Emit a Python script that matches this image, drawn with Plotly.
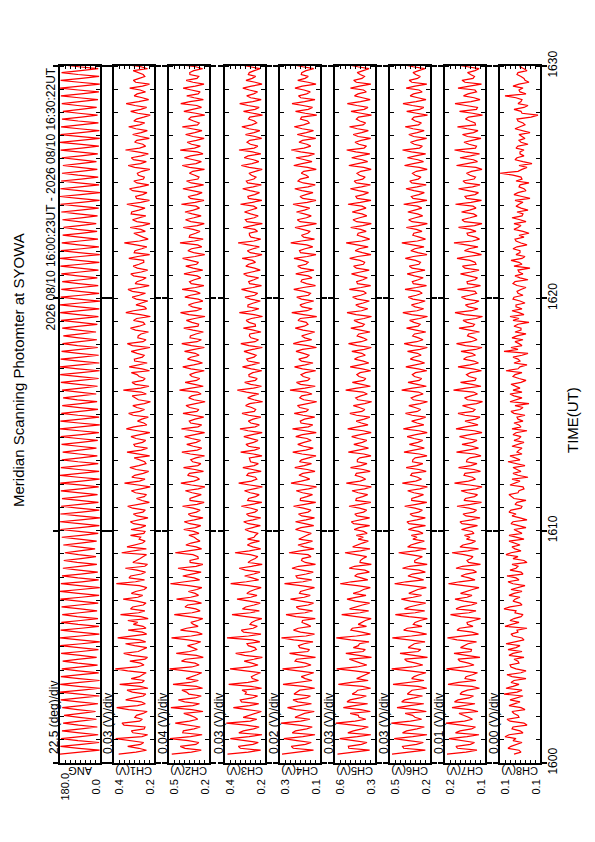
import pandas as pd
import plotly.graph_objects as go

# ---------------- data (one sample every 5 s) ----------------
ang_deg = [
    180, 86, 2, 95, 178, 83, 4, 99, 175, 88, 8, 93, 171, 85, 12, 97, 166, 90, 16, 94,
    162, 87, 20, 101, 170, 84, 9, 96, 177, 89, 3, 92, 180, 82, 0, 98, 179, 91, 2, 94,
    176, 88, 6, 97, 172, 85, 11, 100, 168, 92, 15, 89, 175, 86, 7, 95, 179, 83, 1, 93,
    180, 90, 3, 97, 177, 84, 5, 99, 174, 87, 9, 102, 170, 91, 13, 88, 173, 94, 8, 96,
    178, 85, 4, 98, 180, 89, 1, 93, 176, 82, 6, 100, 171, 87, 10, 95, 167, 91, 14, 103,
    163, 86, 18, 97, 158, 92, 22, 99, 165, 88, 15, 94, 172, 84, 8, 96, 178, 90, 3, 92,
    180, 87, 0, 95, 178, 83, 3, 98, 175, 90, 7, 94, 171, 86, 11, 101, 176, 89, 6, 93,
    179, 84, 2, 97, 180, 91, 4, 96, 176, 85, 8, 99, 172, 88, 12, 95, 168, 92, 16, 97,
    173, 86, 10, 98, 177, 83, 5, 94, 180, 89, 1, 96, 178, 85, 4, 100, 174, 90, 9, 93,
    170, 87, 13, 102, 166, 91, 17, 95, 171, 84, 11, 97, 176, 88, 6, 92, 179, 85, 2, 99,
    180, 90, 3, 94, 177, 84, 6, 97, 173, 88, 10, 101, 169, 92, 14, 96, 165, 86, 18, 98,
    170, 89, 12, 93, 175, 83, 7, 99, 179, 87, 3, 95, 180, 91, 0, 97, 177, 85, 4, 94,
    174, 88, 8, 96, 170, 84, 12, 100, 174, 90, 7, 93, 178, 86, 3, 98, 180, 89, 1, 95,
    176, 83, 5, 97, 172, 91, 9, 94, 168, 87, 13, 102, 164, 92, 17, 96, 169, 85, 11, 99,
    174, 89, 6, 95, 178, 84, 2, 98, 180, 87, 0, 93, 178, 90, 4, 97, 175, 85, 8, 100,
    171, 88, 12, 94, 167, 91, 16, 96, 172, 86, 10, 99, 177, 83, 5, 95, 180, 89, 1, 97,
    178, 86, 3, 94, 175, 90, 7, 98, 171, 84, 11, 96, 167, 88, 15, 101, 172, 92, 9, 95,
    176, 85, 5, 97, 180, 89, 1, 93, 177, 83, 4, 99, 173, 87, 8, 96, 169, 91, 12, 94,
]

ch1_mv = [
    372, 268, 205, 251, 318, 240, 222, 305, 390, 232, 198, 286, 296, 219, 214, 340, 352, 247, 230, 275,
    265, 226, 201, 312, 384, 259, 212, 237, 330, 281, 225, 209, 290, 322, 196, 244, 366, 231, 218, 297,
    248, 229, 207, 318, 392, 263, 220, 241, 305, 214, 199, 292, 342, 255, 233, 203, 276, 331, 210, 246,
    378, 272, 204, 230, 315, 208, 226, 284, 258, 317, 195, 239, 361, 252, 215, 301, 288, 224, 208, 263,
    345, 257, 228, 296, 270, 219, 203, 248, 386, 271, 217, 310, 300, 236, 211, 262, 332, 215, 199, 287,
    262, 243, 224, 205, 354, 266, 206, 322, 283, 229, 213, 249, 240, 301, 221, 214, 298, 238, 209, 282,
    302, 241, 196, 262, 284, 227, 212, 288, 318, 253, 188, 232, 265, 219, 205, 271, 296, 238, 183, 256,
    337, 247, 214, 293, 276, 224, 192, 267, 305, 251, 208, 216, 248, 279, 186, 245, 322, 236, 199, 274,
    281, 229, 210, 268, 298, 244, 185, 259, 326, 281, 203, 221, 259, 233, 194, 285, 312, 246, 217, 263,
    287, 218, 181, 254, 270, 291, 206, 237, 344, 240, 190, 272, 292, 226, 213, 249, 262, 296, 187, 231,
    309, 252, 201, 276, 278, 230, 219, 261, 297, 243, 184, 289, 320, 226, 208, 257, 255, 238, 193, 271,
    301, 249, 215, 224, 283, 264, 182, 242, 329, 283, 205, 217, 268, 235, 197, 266, 291, 248, 211, 290,
    316, 244, 189, 273, 262, 229, 207, 282, 299, 236, 198, 260, 285, 250, 221, 222, 311, 258, 186, 279,
    274, 234, 203, 268, 338, 247, 195, 226, 258, 281, 212, 239, 303, 228, 184, 263, 289, 241, 209, 297,
    294, 251, 214, 270, 323, 239, 187, 265, 270, 228, 202, 288, 307, 245, 191, 262, 281, 223, 218, 254,
    260, 232, 185, 276, 315, 240, 206, 283, 296, 236, 194, 259, 331, 247, 210, 227, 276, 263, 188, 241,
    288, 237, 200, 269, 312, 246, 216, 281, 265, 222, 183, 257, 300, 239, 204, 274, 327, 252, 192, 230,
    279, 261, 211, 243, 306, 229, 187, 270, 284, 249, 215, 225, 259, 285, 199, 238, 318, 255, 190, 266,
]

ch2_mv = [
    498, 341, 262, 392, 430, 305, 281, 366, 512, 348, 255, 410, 405, 320, 270, 377, 470, 356, 290, 314,
    350, 402, 248, 338, 505, 329, 276, 395, 445, 310, 262, 361, 380, 417, 251, 300, 488, 352, 285, 383,
    330, 296, 258, 374, 515, 338, 279, 312, 420, 387, 246, 301, 462, 355, 293, 330, 372, 308, 266, 368,
    500, 342, 254, 297, 428, 379, 287, 324, 345, 290, 250, 359, 478, 335, 271, 306, 392, 371, 260, 318,
    460, 347, 284, 311, 365, 298, 257, 362, 508, 393, 275, 319, 410, 338, 263, 375, 448, 304, 249, 351,
    352, 286, 289, 329, 470, 366, 259, 303, 385, 344, 272, 297, 318, 361, 280, 322, 402, 309, 266, 354,
    398, 318, 248, 344, 366, 301, 271, 327, 412, 296, 239, 352, 352, 309, 262, 335, 389, 286, 233, 340,
    425, 322, 276, 299, 371, 357, 244, 313, 404, 290, 265, 331, 346, 305, 236, 349, 417, 294, 258, 326,
    378, 302, 268, 339, 395, 315, 235, 333, 420, 289, 259, 347, 358, 312, 242, 326, 408, 297, 281, 355,
    384, 308, 231, 320, 362, 338, 263, 292, 436, 343, 246, 316, 391, 300, 274, 336, 355, 311, 238, 345,
    410, 323, 252, 298, 372, 346, 279, 310, 396, 318, 237, 341, 418, 296, 261, 352, 349, 305, 245, 329,
    402, 288, 283, 337, 381, 315, 232, 360, 428, 301, 257, 332, 364, 319, 249, 286, 393, 348, 270, 307,
    415, 309, 241, 342, 356, 318, 266, 295, 400, 336, 250, 328, 386, 299, 284, 350, 411, 313, 234, 323,
    369, 340, 258, 291, 432, 317, 247, 358, 353, 306, 272, 327, 406, 294, 238, 345, 388, 321, 263, 334,
    392, 326, 276, 303, 421, 311, 240, 348, 367, 297, 255, 335, 409, 320, 243, 342, 380, 289, 280, 314,
    357, 330, 236, 356, 414, 304, 261, 325, 397, 347, 248, 293, 430, 316, 269, 339, 375, 301, 239, 327,
    387, 314, 256, 337, 413, 292, 278, 323, 362, 344, 234, 306, 401, 331, 260, 298, 426, 352, 245, 319,
    378, 287, 271, 341, 407, 310, 240, 328, 383, 296, 282, 353, 354, 322, 251, 305, 419, 338, 244, 315,
]

ch3_mv = [
    395, 271, 196, 318, 330, 242, 210, 296, 378, 265, 188, 327, 300, 239, 205, 284, 402, 258, 219, 301,
    268, 233, 192, 276, 360, 262, 207, 311, 318, 247, 214, 289, 282, 308, 190, 254, 388, 272, 209, 246,
    252, 228, 197, 286, 380, 263, 212, 249, 295, 237, 186, 292, 346, 254, 222, 231, 270, 278, 201, 244,
    398, 269, 194, 298, 312, 241, 216, 260, 250, 226, 189, 283, 368, 257, 204, 305, 286, 235, 199, 264,
    338, 255, 218, 279, 262, 231, 193, 267, 376, 282, 208, 246, 292, 238, 200, 288, 325, 251, 187, 272,
    255, 229, 213, 258, 350, 264, 196, 243, 276, 253, 203, 275, 236, 227, 211, 261, 290, 244, 198, 270,
    298, 242, 196, 266, 281, 231, 214, 253, 312, 248, 189, 274, 268, 226, 205, 259, 293, 237, 186, 262,
    328, 251, 219, 228, 279, 270, 193, 245, 303, 235, 210, 257, 262, 264, 188, 240, 316, 233, 201, 269,
    284, 238, 212, 259, 297, 246, 187, 272, 320, 229, 204, 255, 270, 241, 195, 268, 308, 234, 226, 250,
    286, 263, 184, 236, 274, 247, 207, 281, 336, 239, 191, 256, 292, 228, 217, 265, 267, 243, 189, 252,
    305, 249, 202, 271, 280, 236, 223, 258, 296, 244, 186, 267, 315, 230, 209, 254, 264, 261, 194, 240,
    300, 227, 229, 266, 283, 252, 185, 235, 324, 248, 206, 273, 272, 239, 198, 257, 290, 232, 214, 263,
    311, 243, 191, 262, 268, 237, 208, 275, 298, 250, 199, 233, 285, 268, 227, 245, 307, 229, 188, 259,
    276, 241, 204, 270, 331, 236, 196, 254, 263, 264, 215, 231, 301, 247, 186, 278, 288, 234, 211, 256,
    293, 255, 218, 238, 317, 246, 189, 269, 273, 232, 203, 260, 304, 241, 192, 274, 282, 237, 224, 251,
    266, 228, 187, 265, 312, 248, 207, 239, 295, 271, 195, 244, 326, 235, 213, 258, 278, 262, 190, 230,
    287, 236, 201, 267, 309, 249, 220, 233, 269, 261, 185, 242, 299, 230, 205, 272, 322, 244, 193, 256,
    280, 238, 215, 263, 303, 251, 188, 229, 284, 247, 226, 270, 264, 234, 200, 259, 314, 240, 192, 266,
]

ch4_mv = [
    292, 214, 166, 247, 255, 198, 175, 232, 285, 209, 160, 251, 238, 193, 171, 226, 296, 217, 180, 240,
    222, 202, 163, 236, 270, 211, 174, 229, 248, 195, 178, 244, 230, 221, 161, 206, 288, 238, 172, 199,
    215, 191, 165, 228, 290, 207, 176, 198, 240, 234, 158, 213, 262, 189, 182, 221, 226, 204, 168, 245,
    294, 196, 162, 218, 246, 227, 177, 192, 212, 210, 159, 236, 276, 200, 170, 224, 235, 187, 166, 215,
    258, 203, 179, 222, 218, 190, 162, 217, 282, 208, 173, 231, 236, 195, 167, 212, 252, 226, 158, 199,
    214, 211, 176, 188, 264, 219, 164, 204, 228, 197, 170, 225, 205, 192, 175, 209, 238, 216, 165, 201,
    238, 196, 162, 213, 226, 188, 176, 207, 246, 201, 157, 219, 218, 193, 170, 210, 235, 186, 154, 204,
    256, 215, 181, 198, 224, 209, 160, 191, 241, 203, 174, 222, 214, 185, 156, 212, 249, 197, 167, 206,
    229, 204, 175, 192, 237, 211, 155, 199, 250, 187, 169, 216, 219, 202, 161, 208, 243, 195, 186, 221,
    230, 190, 153, 205, 221, 213, 172, 196, 260, 200, 159, 218, 234, 189, 180, 207, 216, 198, 157, 210,
    242, 199, 168, 214, 225, 193, 184, 206, 236, 210, 154, 190, 247, 217, 173, 201, 213, 188, 161, 208,
    239, 203, 188, 195, 228, 219, 153, 206, 253, 192, 171, 211, 220, 197, 165, 214, 233, 186, 178, 205,
    245, 207, 158, 194, 216, 212, 172, 187, 237, 203, 164, 215, 229, 196, 187, 209, 244, 191, 156, 218,
    222, 200, 169, 193, 257, 214, 162, 205, 214, 189, 179, 210, 240, 198, 154, 220, 231, 194, 175, 203,
    234, 202, 181, 216, 248, 191, 156, 209, 220, 197, 168, 213, 241, 188, 159, 207, 228, 219, 185, 195,
    215, 205, 155, 190, 245, 212, 172, 201, 236, 186, 162, 217, 255, 204, 177, 192, 224, 210, 157, 198,
    231, 195, 166, 211, 243, 206, 183, 190, 218, 214, 153, 199, 238, 187, 170, 208, 252, 202, 160, 217,
    226, 193, 179, 204, 240, 211, 156, 188, 229, 200, 187, 215, 213, 196, 165, 209, 247, 190, 158, 206,
]

ch5_mv = [
    565, 452, 372, 497, 500, 421, 388, 468, 552, 446, 365, 503, 470, 418, 380, 472, 575, 459, 395, 436,
    440, 489, 368, 425, 530, 462, 384, 508, 490, 431, 392, 477, 455, 444, 366, 415, 560, 482, 381, 450,
    425, 405, 370, 463, 570, 448, 389, 426, 468, 494, 361, 437, 515, 412, 398, 470, 440, 433, 376, 485,
    572, 451, 367, 419, 485, 476, 391, 441, 422, 398, 363, 466, 540, 429, 378, 493, 458, 415, 372, 457,
    508, 438, 394, 471, 432, 409, 368, 447, 548, 482, 383, 423, 462, 445, 374, 401, 495, 463, 362, 430,
    428, 412, 390, 456, 520, 427, 370, 474, 448, 415, 380, 441, 410, 452, 387, 408, 465, 436, 372, 468,
    482, 421, 372, 448, 461, 409, 390, 433, 496, 426, 365, 455, 452, 414, 384, 441, 478, 403, 362, 437,
    512, 429, 396, 418, 458, 452, 369, 411, 487, 424, 388, 446, 446, 432, 364, 407, 500, 440, 379, 423,
    467, 416, 389, 439, 480, 428, 363, 410, 504, 445, 382, 422, 453, 405, 371, 451, 491, 418, 401, 434,
    470, 402, 360, 443, 456, 425, 386, 412, 516, 449, 368, 420, 476, 408, 395, 436, 449, 430, 365, 417,
    489, 431, 377, 410, 463, 442, 398, 419, 479, 404, 362, 447, 499, 423, 387, 412, 447, 437, 370, 428,
    485, 415, 404, 440, 466, 406, 361, 453, 508, 421, 383, 433, 455, 411, 374, 446, 474, 426, 392, 409,
    494, 424, 366, 445, 450, 413, 386, 438, 481, 427, 375, 451, 468, 409, 402, 430, 492, 444, 364, 416,
    459, 435, 381, 448, 513, 419, 372, 407, 446, 441, 393, 426, 486, 413, 362, 450, 472, 432, 389, 418,
    477, 436, 394, 418, 502, 428, 364, 447, 455, 410, 379, 439, 488, 421, 368, 452, 465, 414, 399, 433,
    448, 425, 363, 408, 497, 443, 384, 417, 480, 431, 371, 455, 510, 406, 391, 437, 460, 423, 366, 441,
    471, 420, 380, 446, 493, 412, 397, 431, 452, 439, 361, 424, 484, 405, 382, 449, 506, 427, 369, 415,
    463, 442, 392, 409, 487, 433, 365, 452, 468, 418, 403, 429, 447, 411, 376, 444, 499, 425, 367, 436,
]

ch6_mv = [
    468, 352, 268, 398, 405, 321, 280, 369, 455, 344, 258, 405, 380, 318, 274, 372, 472, 357, 290, 330,
    345, 389, 262, 327, 438, 361, 277, 410, 392, 335, 285, 376, 360, 348, 259, 312, 462, 381, 276, 350,
    335, 306, 264, 364, 470, 347, 283, 325, 378, 392, 255, 338, 420, 312, 295, 371, 350, 334, 270, 386,
    466, 351, 260, 318, 398, 377, 288, 340, 330, 299, 256, 366, 448, 329, 272, 393, 366, 315, 266, 357,
    412, 341, 291, 367, 340, 313, 262, 349, 452, 384, 278, 322, 372, 346, 268, 305, 405, 363, 257, 331,
    332, 310, 286, 358, 428, 327, 263, 374, 355, 318, 274, 343, 318, 352, 282, 309, 370, 337, 267, 366,
    378, 319, 268, 342, 360, 308, 286, 331, 392, 322, 259, 350, 349, 312, 279, 337, 374, 301, 256, 334,
    406, 326, 291, 314, 356, 348, 263, 307, 383, 320, 283, 345, 343, 329, 258, 304, 396, 338, 274, 316,
    364, 313, 284, 336, 377, 325, 257, 306, 400, 341, 277, 318, 350, 302, 266, 347, 387, 316, 296, 330,
    367, 299, 255, 340, 353, 323, 281, 309, 410, 345, 262, 317, 372, 305, 290, 333, 346, 327, 259, 311,
    385, 328, 272, 306, 358, 338, 293, 315, 375, 300, 256, 344, 395, 320, 282, 309, 344, 333, 265, 324,
    381, 311, 299, 336, 362, 303, 255, 350, 403, 318, 278, 329, 351, 308, 269, 343, 370, 322, 287, 305,
    390, 321, 261, 340, 346, 310, 281, 333, 377, 324, 270, 347, 364, 306, 297, 327, 388, 339, 258, 313,
    355, 331, 276, 345, 409, 316, 267, 304, 343, 337, 288, 322, 382, 310, 256, 348, 368, 328, 284, 315,
    373, 332, 289, 314, 398, 325, 258, 342, 352, 307, 274, 336, 384, 318, 263, 349, 361, 311, 294, 329,
    345, 322, 257, 305, 393, 340, 279, 313, 376, 327, 266, 351, 405, 303, 286, 334, 357, 320, 260, 338,
    367, 317, 275, 342, 389, 309, 292, 328, 348, 336, 255, 320, 380, 302, 277, 346, 402, 324, 264, 313,
    359, 339, 287, 306, 383, 330, 259, 349, 365, 315, 298, 326, 342, 308, 271, 341, 395, 322, 262, 333,
]

ch7_mv = [
    206, 168, 146, 185, 188, 159, 151, 177, 202, 166, 142, 189, 180, 157, 149, 178, 208, 171, 155, 163,
    172, 182, 144, 160, 196, 169, 150, 191, 184, 162, 153, 180, 176, 165, 141, 156, 204, 183, 148, 170,
    168, 155, 145, 176, 207, 173, 152, 163, 180, 184, 140, 167, 192, 158, 157, 179, 171, 164, 147, 186,
    205, 169, 143, 156, 186, 181, 154, 165, 166, 152, 139, 178, 199, 162, 148, 188, 178, 157, 146, 172,
    190, 166, 156, 179, 169, 155, 142, 170, 203, 181, 150, 162, 178, 168, 147, 154, 188, 175, 139, 163,
    166, 158, 154, 172, 196, 164, 143, 180, 174, 157, 149, 167, 160, 171, 152, 156, 177, 163, 145, 176,
    180, 157, 140, 168, 174, 153, 147, 162, 186, 159, 137, 172, 169, 151, 145, 165, 178, 148, 136, 161,
    191, 163, 149, 155, 172, 170, 139, 152, 183, 158, 146, 167, 166, 160, 138, 150, 187, 164, 143, 156,
    176, 155, 146, 166, 181, 160, 136, 151, 188, 169, 144, 157, 170, 149, 140, 170, 184, 154, 150, 163,
    175, 147, 135, 165, 171, 158, 145, 153, 193, 168, 138, 156, 179, 150, 148, 162, 167, 159, 137, 154,
    184, 160, 143, 152, 173, 167, 149, 156, 178, 149, 136, 169, 187, 158, 146, 153, 165, 163, 141, 161,
    182, 154, 151, 166, 174, 148, 135, 171, 190, 157, 144, 163, 169, 151, 142, 168, 177, 161, 147, 150,
    185, 156, 139, 165, 166, 150, 145, 162, 179, 158, 142, 170, 175, 148, 150, 160, 186, 164, 137, 152,
    171, 162, 144, 168, 192, 155, 141, 149, 164, 166, 148, 159, 183, 151, 136, 171, 176, 160, 146, 153,
    177, 161, 148, 154, 189, 158, 137, 167, 170, 150, 143, 164, 183, 155, 140, 169, 174, 152, 149, 160,
    167, 157, 136, 148, 187, 166, 145, 153, 180, 159, 141, 170, 191, 149, 147, 162, 172, 156, 138, 165,
    175, 153, 144, 166, 185, 149, 150, 160, 169, 163, 135, 155, 181, 147, 145, 168, 190, 158, 140, 152,
    173, 164, 147, 150, 184, 161, 137, 170, 176, 154, 151, 159, 165, 150, 142, 165, 188, 157, 139, 162,
]

ch8_mv = [
    126, 119, 121, 132, 129, 123, 118, 127, 124, 135, 131, 117, 120, 128, 127, 113, 116, 130, 133, 121,
    122, 126, 128, 115, 119, 131, 125, 120, 130, 124, 117, 136, 123, 118, 134, 127, 121, 129, 126, 114,
    128, 133, 119, 114, 124, 129, 130, 121, 122, 126, 116, 131, 127, 118, 132, 124, 120, 134, 125, 116,
    118, 127, 129, 122, 123, 113, 135, 128, 121, 130, 126, 119, 117, 125, 124, 136, 130, 118, 120, 127,
    125, 120, 131, 126, 118, 129, 123, 115, 127, 132, 121, 124, 133, 117, 119, 130, 124, 122, 128, 113,
    116, 127, 122, 134, 129, 119, 125, 128, 120, 125, 131, 116, 123, 131, 118, 122, 126, 114, 121, 129,
    127, 113, 120, 128, 124, 131, 129, 119, 118, 125, 123, 114, 126, 129, 131, 122, 121, 116, 117, 130,
    125, 120, 128, 112, 122, 127, 119, 124, 127, 115, 124, 132, 120, 126, 130, 118, 123, 121, 118, 128,
    122, 116, 126, 121, 119, 127, 124, 113, 128, 119, 121, 126, 117, 122, 123, 115, 126, 129, 120, 117,
    125, 111, 130, 124, 118, 126, 130, 118, 127, 120, 124, 129, 119, 114, 121, 127, 125, 118, 134, 122,
    120, 113, 126, 120, 122, 127, 118, 112, 136, 122, 129, 118, 121, 125, 117, 128, 123, 114, 125, 119,
    119, 126, 122, 111, 127, 121, 130, 116, 121, 128, 118, 124, 124, 115, 120, 127, 126, 117, 122, 123,
    119, 114, 123, 127, 125, 112, 120, 125, 117, 121, 122, 110, 126, 118, 121, 129, 118, 115, 124, 120,
    120, 127, 123, 113, 119, 124, 125, 116, 121, 111, 117, 126, 122, 119, 126, 114, 120, 128, 118, 117,
    123, 112, 119, 124, 121, 117, 125, 110, 118, 126, 122, 114, 116, 121, 120, 111, 124, 118, 119, 127,
    140, 122, 118, 113, 121, 108, 117, 125, 123, 116, 120, 120, 116, 124, 122, 112, 119, 121, 115, 118,
    121, 110, 118, 125, 120, 115, 117, 122, 123, 109, 102, 118, 119, 126, 116, 112, 122, 119, 118, 124,
    135, 114, 120, 121, 117, 127, 121, 111, 115, 116, 119, 123, 122, 113, 116, 120, 118, 125, 120, 116,
]

channel_names = ["ANG", "CH1(V)", "CH2(V)", "CH3(V)", "CH4(V)", "CH5(V)", "CH6(V)", "CH7(V)", "CH8(V)"]
div_labels = ["22.5 (deg)/div", "0.03 (V)/div", "0.04 (V)/div", "0.03 (V)/div", "0.02 (V)/div",
              "0.03 (V)/div", "0.03 (V)/div", "0.01 (V)/div", "0.00 (V)/div"]
high_labels = ["180.0", "0.4", "0.5", "0.4", "0.3", "0.6", "0.5", "0.2", "0.1"]
low_labels = ["0.0", "0.2", "0.2", "0.2", "0.1", "0.3", "0.2", "0.1", "0.1"]
range_lo = [0.0, 0.16, 0.20, 0.17, 0.14, 0.34, 0.24, 0.13, 0.100]
range_hi = [180.0, 0.40, 0.52, 0.41, 0.30, 0.58, 0.48, 0.21, 0.140]
range_div = [22.5, 0.03, 0.04, 0.03, 0.02, 0.03, 0.03, 0.01, 0.005]

title_text = "Meridian Scanning Photomter at SYOWA"
period_text = "2026 08/10 16:00:23UT - 2026 08/10 16:30:22UT"
time_title = "TIME(UT)"
t_start, t_end = "2026-08-10 16:00:00", "2026-08-10 16:30:00"
first_sample = "2026-08-10 16:00:23"
sample_step = "5s"

# ---------------- build ----------------
series = [ang_deg] + [[v / 1000.0 for v in ch] for ch in
                      (ch1_mv, ch2_mv, ch3_mv, ch4_mv, ch5_mv, ch6_mv, ch7_mv, ch8_mv)]
n = min(len(s) for s in series)
times = pd.date_range(first_sample, periods=n, freq=sample_step)

W, H = 595, 842
FONT = "Liberation Sans, Arial, Helvetica, sans-serif"
left_px = [60, 114, 169, 225, 280, 335, 390, 445, 500]
panel_w = 40
top_px, bot_px = 66, 763
ydom = [1 - bot_px / H, 1 - top_px / H]

fig = go.Figure()
layout = dict(
    width=W, height=H, margin=dict(l=0, r=0, t=0, b=0, autoexpand=False),
    paper_bgcolor="white", plot_bgcolor="white", showlegend=False,
    font=dict(family=FONT, color="black"),
)
annotations = []

for k in range(9):
    s = "" if k == 0 else str(k + 1)
    xname, yname = "x" + s, "y" + s
    fig.add_trace(go.Scatter(
        x=series[k][:n], y=times, mode="lines",
        line=dict(color="#ff0000", width=1.2),
        xaxis=xname, yaxis=yname, hoverinfo="skip",
    ))
    lo, hi, dv = range_lo[k], range_hi[k], range_div[k]
    layout["xaxis" + s] = dict(
        domain=[left_px[k] / W, (left_px[k] + panel_w) / W], anchor=yname,
        range=[hi, lo], tickmode="linear", tick0=lo, dtick=dv,
        ticks="inside", ticklen=3, tickwidth=1, tickcolor="black",
        showticklabels=False, showline=True, linecolor="black", linewidth=2,
        mirror="ticks", showgrid=False, zeroline=False, fixedrange=True,
        automargin=False,
    )
    layout["yaxis" + s] = dict(
        domain=ydom, anchor=xname, type="date", range=[t_start, t_end],
        tickmode="linear", tick0=t_start, dtick=600000,
        ticks="outside", ticklen=5, tickwidth=1.5, tickcolor="black",
        minor=dict(tick0=t_start, dtick=60000, ticks="inside", ticklen=4,
                   tickwidth=1, tickcolor="black"),
        showline=True, linecolor="black", linewidth=2, mirror="ticks",
        showgrid=False, zeroline=False, fixedrange=True, automargin=False,
        showticklabels=(k == 8), side="right" if k == 8 else "left",
        tickformat="%H%M", tickangle=-90, tickfont=dict(size=12, family=FONT),
        ticklabelstandoff=-4,
    )
    # inner part of the 10-minute marks
    layout["yaxis" + str(10 + k)] = dict(
        overlaying=yname, anchor=xname, type="date", range=[t_start, t_end],
        tickmode="linear", tick0=t_start, dtick=600000,
        ticks="inside", ticklen=9, tickwidth=1.5, tickcolor="black",
        showline=False, mirror="ticks", showgrid=False, zeroline=False,
        showticklabels=False, fixedrange=True, automargin=False,
        side="right" if k == 8 else "left",
    )
    # per-panel texts
    annotations.append(dict(
        text=div_labels[k], xref=xname + " domain", x=0, xshift=-6.5,
        yref="paper", y=1 - 756 / H, xanchor="center", yanchor="bottom",
        textangle=-90, showarrow=False, font=dict(size=12, family=FONT)))
    annotations.append(dict(
        text=channel_names[k], xref=xname + " domain", x=0.5,
        yref="paper", y=1 - 771 / H, xanchor="center", yanchor="middle",
        textangle=180, showarrow=False, font=dict(size=11, family=FONT)))
    annotations.append(dict(
        text=high_labels[k], xref=xname, x=hi, xshift=4.5,
        yref="paper", y=1 - 787 / H, xanchor="center", yanchor="middle",
        textangle=-90, showarrow=False, font=dict(size=11, family=FONT)))
    annotations.append(dict(
        text=low_labels[k], xref=xname, x=lo, xshift=-4.5,
        yref="paper", y=1 - 787 / H, xanchor="center", yanchor="middle",
        textangle=-90, showarrow=False, font=dict(size=11, family=FONT)))

annotations.append(dict(
    text=title_text, xref="paper", yref="paper", x=18 / W, y=1 - 370 / H,
    xanchor="center", yanchor="middle", textangle=-90, showarrow=False,
    font=dict(size=15, family=FONT)))
annotations.append(dict(
    text=period_text, xref="paper", yref="paper", x=50 / W, y=1 - 66 / H,
    xanchor="center", yanchor="top", textangle=-90, showarrow=False,
    font=dict(size=12, family=FONT)))
annotations.append(dict(
    text=time_title, xref="paper", yref="paper", x=572 / W, y=1 - 420 / H,
    xanchor="center", yanchor="middle", textangle=-90, showarrow=False,
    font=dict(size=15, family=FONT)))

layout["annotations"] = annotations
fig.update_layout(**layout)

fig.write_html("out.html", config={"displayModeBar": False},
               post_script="document.body.style.margin='0';")
